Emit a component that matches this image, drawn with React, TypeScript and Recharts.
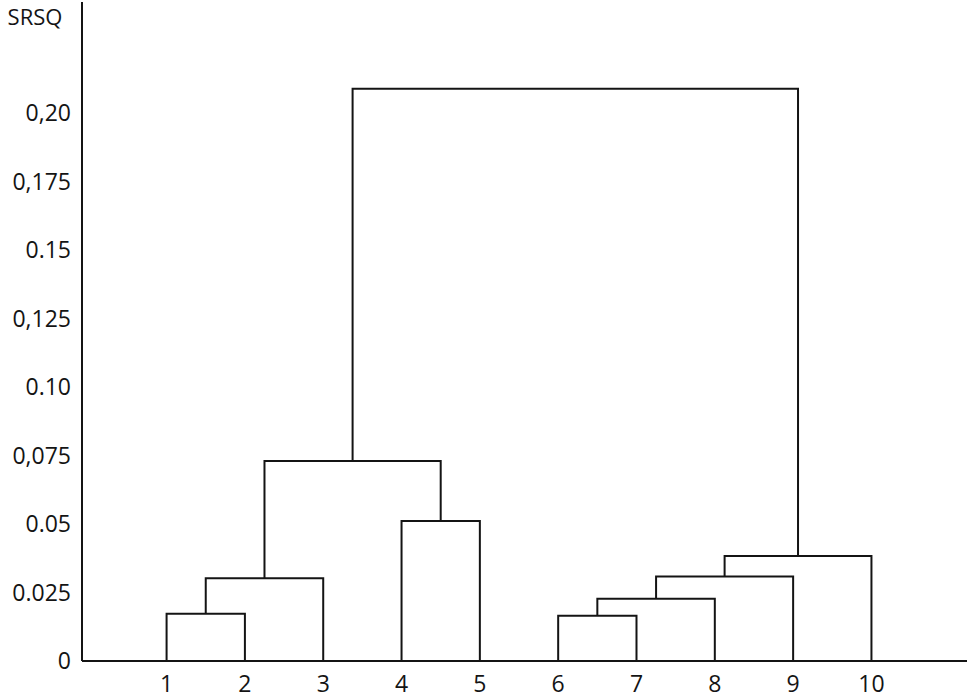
import { LineChart, Line, XAxis, YAxis } from "recharts";

const leafLabels = ["1", "2", "3", "4", "5", "6", "7", "8", "9", "10"];

// merges: children are leaf indexes (0-9) or earlier merges (10 + merge index)
const mergeLeft = [0, 10, 3, 11, 5, 14, 15, 16, 13];
const mergeRight = [1, 2, 4, 12, 6, 7, 8, 9, 17];
const mergeHeight = [0.0172, 0.0302, 0.0511, 0.073, 0.0165, 0.0227, 0.0308, 0.0383, 0.2088];

const yTicks = [0, 0.025, 0.05, 0.075, 0.1, 0.125, 0.15, 0.175, 0.2];
const yTickLabels = ["0", "0.025", "0.05", "0,075", "0.10", "0,125", "0.15", "0,175", "0,20"];

const ink = "#141414";
const font = "'Open Sans', sans-serif";

function buildLinks() {
  const nodeX: number[] = leafLabels.map((_, i) => i + 1);
  const nodeH: number[] = leafLabels.map(() => 0);
  const links: { x: number; y: number }[][] = [];
  mergeHeight.forEach((h, i) => {
    const l = mergeLeft[i];
    const r = mergeRight[i];
    links.push([
      { x: nodeX[l], y: nodeH[l] },
      { x: nodeX[l], y: h },
      { x: nodeX[r], y: h },
      { x: nodeX[r], y: nodeH[r] },
    ]);
    nodeX.push((nodeX[l] + nodeX[r]) / 2);
    nodeH.push(h);
  });
  return links;
}

export default function App() {
  const links = buildLinks();
  return (
    <div style={{ position: "absolute", left: 0, top: 0, background: "#fff" }}>
      <LineChart width={975} height={700} margin={{ top: 2, right: 8, bottom: 9, left: 0 }}>
        <XAxis
          type="number"
          dataKey="x"
          domain={[-0.08, 11.22]}
          ticks={leafLabels.map((_, i) => i + 1)}
          interval={0}
          tickFormatter={(v: number) => leafLabels[v - 1]}
          tickSize={0}
          tickMargin={15}
          height={30}
          axisLine={{ stroke: ink, strokeWidth: 2 }}
          tick={{ fill: ink, fontSize: 23, fontFamily: font }}
        />
        <YAxis
          type="number"
          dataKey="y"
          domain={[0, 0.2405]}
          ticks={yTicks}
          interval={0}
          tickFormatter={(v: number) => yTickLabels[yTicks.indexOf(v)]}
          tickSize={0}
          tickMargin={11}
          width={82}
          axisLine={{ stroke: ink, strokeWidth: 2 }}
          tick={{ fill: ink, fontSize: 23, fontFamily: font }}
          label={{ value: "SRSQ", position: "insideTop", offset: 7, dx: -6, fill: ink, fontSize: 22, fontFamily: font }}
        />
        {links.map((pts, i) => (
          <Line
            key={i}
            data={pts}
            dataKey="y"
            type="linear"
            stroke={ink}
            strokeWidth={2}
            dot={false}
            activeDot={false}
            legendType="none"
            isAnimationActive={false}
          />
        ))}
      </LineChart>
    </div>
  );
}
